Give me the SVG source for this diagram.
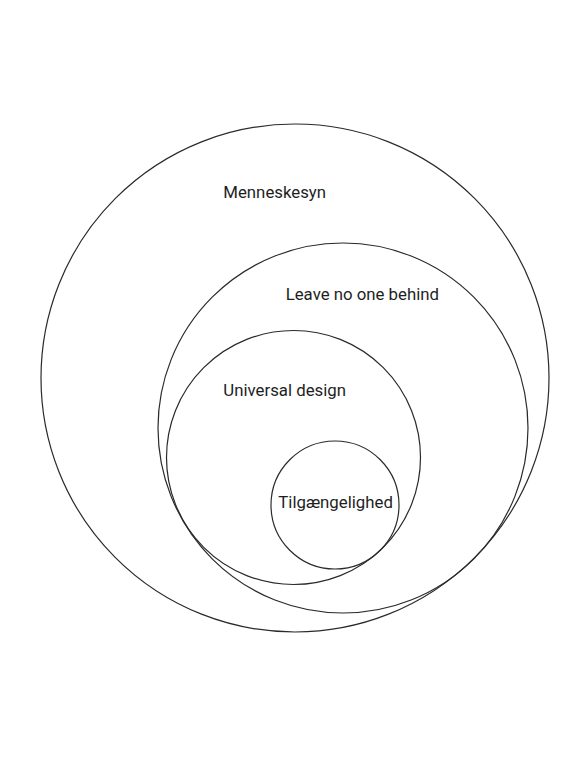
<svg xmlns="http://www.w3.org/2000/svg" width="587" height="780" viewBox="0 0 587 780">
<style>
.c{fill:none;stroke:#2a2a2a;stroke-width:1.2}
.t{font-family:Roboto,"Liberation Sans",sans-serif;font-size:16.8px;fill:#1e1e1e}
</style>
<rect width="587" height="780" fill="#fff"/>
<g id="menneskesyn"><circle class="c" cx="295" cy="378" r="254"/><text class="t" x="223.3" y="197.7">Menneskesyn</text></g>
<g id="leave-no-one-behind"><circle class="c" cx="343" cy="428" r="185"/><text class="t" x="285.7" y="300">Leave no one behind</text></g>
<g id="universal-design"><circle class="c" cx="293.5" cy="457.5" r="127"/><text class="t" x="223.3" y="396">Universal design</text></g>
<g id="tilgaengelighed"><circle class="c" cx="335" cy="505" r="64"/><text class="t" x="278.3" y="508.3">Tilgængelighed</text></g>
<g id="connectors"/>
</svg>
